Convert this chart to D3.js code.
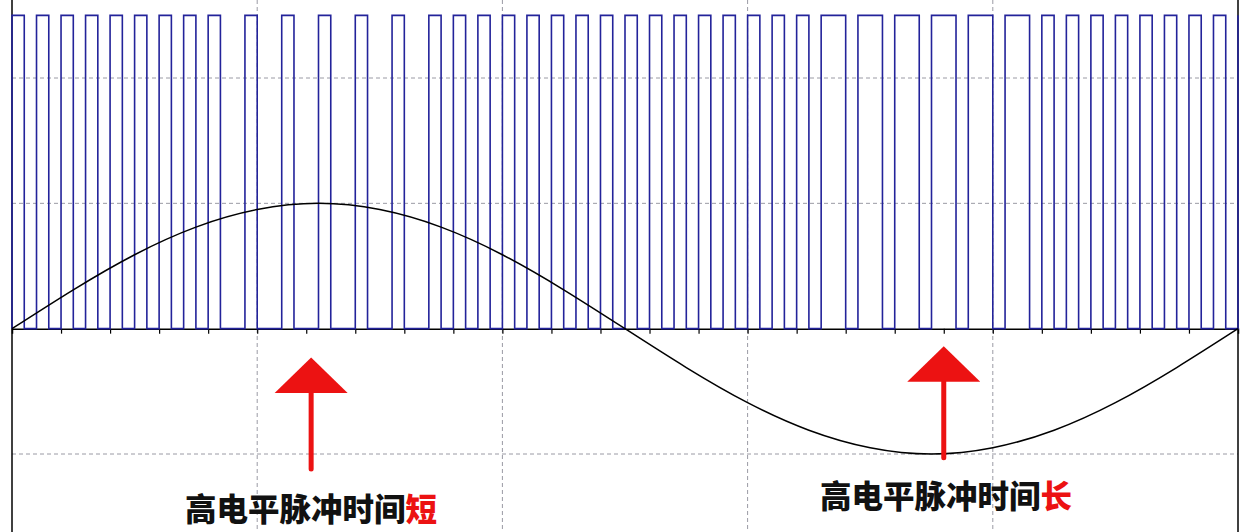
<!DOCTYPE html>
<html>
<head>
<meta charset="utf-8">
<script src="https://cdn.jsdelivr.net/npm/d3@7"></script>
<style>
  html, body { margin: 0; padding: 0; background: #fff; }
  svg { display: block; }
</style>
</head>
<body>
<svg id="chart" width="1251" height="532"></svg>
<script>
// ---- data ----
const pulseStart = [0, 0.1, 0.2, 0.3, 0.4, 0.5, 0.6, 0.7, 0.8, 0.95, 1.1, 1.25, 1.4, 1.55, 1.7, 1.8, 1.9,
  2.0, 2.1, 2.2, 2.3, 2.4, 2.5, 2.6, 2.7, 2.8, 2.9, 3.0, 3.1, 3.2, 3.3, 3.45, 3.6, 3.75, 3.9,
  4.05, 4.2, 4.3, 4.4, 4.5, 4.6, 4.7, 4.8, 4.9, 5.0];
const pulseEnd = [0.05, 0.15, 0.25, 0.35, 0.45, 0.55, 0.65, 0.75, 0.85, 1.0, 1.15, 1.3, 1.45, 1.6, 1.75, 1.85, 1.95,
  2.05, 2.15, 2.25, 2.35, 2.45, 2.55, 2.65, 2.75, 2.85, 2.95, 3.05, 3.15, 3.25, 3.4, 3.55, 3.7, 3.85, 4.0,
  4.15, 4.25, 4.35, 4.45, 4.55, 4.65, 4.75, 4.85, 4.95, 5.0];
const pulseLevels = [0, 2.5];            // low / high level of the PWM signal
const sineX = [0, 0.25, 0.5, 0.75, 1.0, 1.25, 1.5, 1.75, 2.0, 2.25, 2.5, 2.75, 3.0, 3.25, 3.5, 3.75, 4.0, 4.25, 4.5, 4.75, 5.0];
const sineY = [0, 0.31, 0.59, 0.81, 0.95, 1.0, 0.95, 0.81, 0.59, 0.31, 0, -0.31, -0.59, -0.81, -0.95, -1.0, -0.95, -0.81, -0.59, -0.31, 0];
const xGrid = [1, 2, 3, 4];
const yGrid = [2, 1, -1];
const xTicks = [0.2,0.4,0.6,0.8,1.0,1.2,1.4,1.6,1.8,2.0,2.2,2.4,2.6,2.8,3.0,3.2,3.4,3.6,3.8,4.0,4.2,4.4,4.6,4.8];
const arrowX = [1.22, 3.8];             // arrow positions (x units)
const arrowTip = [-0.23, -0.14];        // tip y (value units)
const arrowTail = [-1.12, -1.03];       // tail y (value units)
const labelText = [["高电平脉冲时间", "短"], ["高电平脉冲时间", "长"]];

// ---- scales ----
const svg = d3.select("#chart");
const W = 1251, H = 532;
const x = d3.scaleLinear().domain([0, 5]).range([12, 1238]);
const y = d3.scaleLinear().domain([-1, 2]).range([454, 78]);

// grid
svg.append("g").selectAll("line").data(xGrid).join("line")
  .attr("x1", d => x(d)).attr("x2", d => x(d)).attr("y1", 0).attr("y2", H)
  .attr("stroke", "#9a9aa4").attr("stroke-width", 1).attr("stroke-dasharray", "4,3");
svg.append("g").selectAll("line").data(yGrid).join("line")
  .attr("x1", x(0)).attr("x2", x(5)).attr("y1", d => y(d)).attr("y2", d => y(d))
  .attr("stroke", "#9a9aa4").attr("stroke-width", 1).attr("stroke-dasharray", "4,3");

// x axis at zero
const ax = svg.append("g").attr("transform", `translate(0,${y(0)})`)
  .call(d3.axisBottom(x).tickValues(xTicks).tickSize(5).tickFormat(""));
ax.select(".domain").attr("stroke", "#000").attr("stroke-width", 1.5);
ax.selectAll(".tick line").attr("stroke", "#000").attr("stroke-width", 1.2);

// side frame lines
svg.append("g").selectAll("line").data([0, 5]).join("line")
  .attr("x1", d => x(d)).attr("x2", d => x(d)).attr("y1", 0).attr("y2", H)
  .attr("stroke", "#000").attr("stroke-width", 1.5);

// pulses
const pts = [];
pulseStart.forEach((s, i) => {
  const e = pulseEnd[i];
  pts.push([s, pulseLevels[0]], [s, pulseLevels[1]], [e, pulseLevels[1]], [e, pulseLevels[0]]);
});
svg.append("path")
  .attr("d", d3.line().x(d => x(d[0])).y(d => y(d[1]))(pts))
  .attr("fill", "none").attr("stroke", "#23239a").attr("stroke-width", 1.6)
  .attr("stroke-linejoin", "miter");

// sine
svg.append("path")
  .attr("d", d3.line().x((d, i) => x(sineX[i])).y(d => y(d)).curve(d3.curveNatural)(sineY))
  .attr("fill", "none").attr("stroke", "#000").attr("stroke-width", 1.5);

// arrows
const red = "#ec1212";
arrowX.forEach((ax0, i) => {
  const cx = x(ax0), tipY = y(arrowTip[i]), tailY = y(arrowTail[i]);
  svg.append("line").attr("x1", cx).attr("x2", cx).attr("y1", tipY + 30).attr("y2", tailY)
    .attr("stroke", red).attr("stroke-width", 5).attr("stroke-linecap", "round");
  svg.append("path")
    .attr("d", `M${cx},${tipY} L${cx + 36.5},${tipY + 35.5} L${cx - 36.5},${tipY + 35.5} Z`)
    .attr("fill", red);
});

// labels
const labelPos = [[185, 521], [820, 508]];
labelText.forEach((t, i) => {
  const tx = svg.append("text").attr("x", labelPos[i][0]).attr("y", labelPos[i][1])
    .attr("font-family", "'Noto Sans CJK SC', sans-serif").attr("font-weight", 900)
    .attr("font-size", 31.5);
  tx.append("tspan").attr("fill", "#111").text(t[0]);
  tx.append("tspan").attr("fill", red).text(t[1]);
});
</script>
</body>
</html>
